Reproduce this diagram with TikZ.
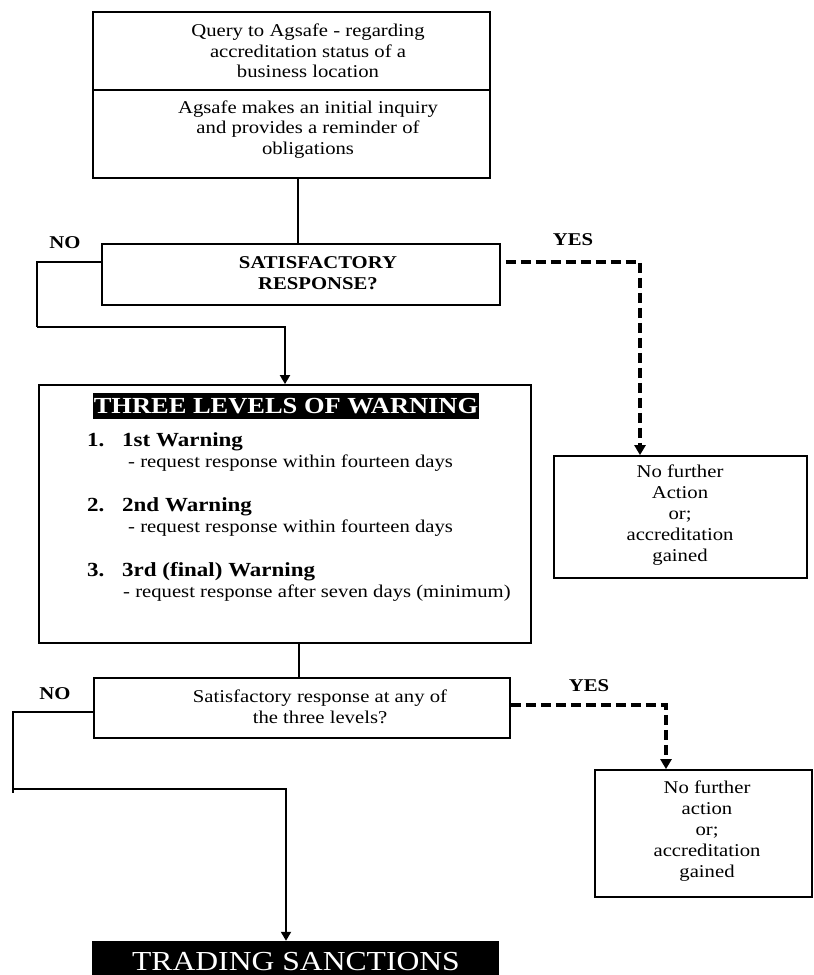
\documentclass[tikz,border=0pt]{standalone}
\usepackage{fontspec}
\setmainfont{Liberation Serif}[FakeStretch=1.15]
\usetikzlibrary{arrows.meta}
\newcommand\myfn{\fontsize{18}{20.5}\selectfont}
\newcommand\mybf{\fontsize{18}{21}\selectfont\bfseries}
\newcommand\myitem{\fontsize{20}{22}\selectfont\bfseries}
\tikzset{
  boxst/.style={draw, line width=1.8pt, inner sep=0pt},
  txt/.style={inner sep=0pt, align=center, font=\myfn},
  lbl/.style={inner sep=0pt, font=\mybf},
  itm/.style={inner sep=0pt, anchor=base west, font=\myitem},
  conn/.style={line width=1.8pt},
  tipconn/.style={line width=1.8pt, -{Triangle[width=10pt,length=9pt]}},
  dashconn/.style={line width=3.5pt, dash pattern=on 10pt off 5pt, -{Triangle[width=11pt,length=10pt]}},
  blk/.style={fill=black, inner sep=0pt, text=white}
}
\begin{document}
\begin{tikzpicture}[x=1pt,y=-1pt]
\useasboundingbox (0,0) rectangle (814,975);

% boxes
\node[boxst, minimum width=397pt, minimum height=166pt] (top) at (291.5,95) {};
\coordinate (div) at (0,90);
\draw[conn] (top.west |- div) -- (top.east |- div);
\node[txt] (t1) at (308,51) {Query to Agsafe - regarding\\accreditation status of a\\business location};
\node[txt] (t2) at (308,129.5) {Agsafe makes an initial inquiry\\and provides a reminder of\\obligations};

\node[boxst, minimum width=398pt, minimum height=61pt] (dec1) at (301,274.5) {};
\node[txt, font=\mybf] (d1t) at (318,273) {SATISFACTORY\\RESPONSE?};

\node[boxst, minimum width=492pt, minimum height=258pt] (warn) at (285,514) {};
\node[blk, minimum width=386pt, minimum height=26pt, font=\fontsize{23}{25}\selectfont\bfseries] (wt) at (286,406) {THREE LEVELS OF WARNING};
\node[itm] (n1) at (87,446.5) {1.};
\node[itm] (w1) at (122,446.5) {1st Warning};
\node[txt, anchor=base west] (s1) at (128,467) {- request response within fourteen days};
\node[itm] (n2) at (87,511.5) {2.};
\node[itm] (w2) at (122,511.5) {2nd Warning};
\node[txt, anchor=base west] (s2) at (128,532) {- request response within fourteen days};
\node[itm] (n3) at (87,576.5) {3.};
\node[itm] (w3) at (122,576.5) {3rd (final) Warning};
\node[txt, anchor=base west] (s3) at (123,597) {- request response after seven days (minimum)};

\node[boxst, minimum width=253pt, minimum height=122pt] (right1) at (680.5,517) {};
\node[txt, font=\fontsize{18}{21}\selectfont] (r1t) at (680,515) {No further\\Action\\or;\\accreditation\\gained};

\node[boxst, minimum width=416pt, minimum height=60pt] (dec2) at (302,708) {};
\node[txt] (d2t) at (320,707) {Satisfactory response at any of\\the three levels?};

\node[boxst, minimum width=217pt, minimum height=127pt] (right2) at (703.5,833.5) {};
\node[txt, font=\fontsize{18}{21}\selectfont] (r2t) at (707,831) {No further\\action\\or;\\accreditation\\gained};

\node[blk, minimum width=407pt, minimum height=34pt] (trade) at (295.5,958) {};
\node[inner sep=0pt, text=white, font=\fontsize{27.5}{30}\selectfont] (tt) at (296,962) {TRADING SANCTIONS};

% labels
\node[lbl] (no1) at (65,243) {NO};
\node[lbl] (yes1) at (573,240) {YES};
\node[lbl] (no2) at (55,694) {NO};
\node[lbl] (yes2) at (589,686) {YES};

% connectors
\coordinate (x1) at (298,0);
\draw[conn] (top.south -| x1) -- (dec1.north -| x1);

\coordinate (y1) at (0,262);
\coordinate (k1) at (37,327);
\coordinate (x2) at (285,0);
\draw[conn] (dec1.west |- y1) -| (k1);
\draw[tipconn] (k1) -| (warn.north -| x2);

\coordinate (x3) at (640,0);
\draw[dashconn] ([xshift=5pt]dec1.east |- y1) -| (right1.north -| x3);

\coordinate (x4) at (299,0);
\draw[conn] (warn.south -| x4) -- (dec2.north -| x4);

\coordinate (y2) at (0,712);
\coordinate (k2) at (13,793);
\coordinate (k3) at (13,789);
\coordinate (x5) at (286,0);
\draw[conn] (dec2.west |- y2) -| (k2);
\draw[tipconn] (k3) -| (trade.north -| x5);

\coordinate (y3) at (0,705);
\coordinate (x6) at (666,0);
\draw[dashconn] (dec2.east |- y3) -| (right2.north -| x6);
\end{tikzpicture}
\end{document}
